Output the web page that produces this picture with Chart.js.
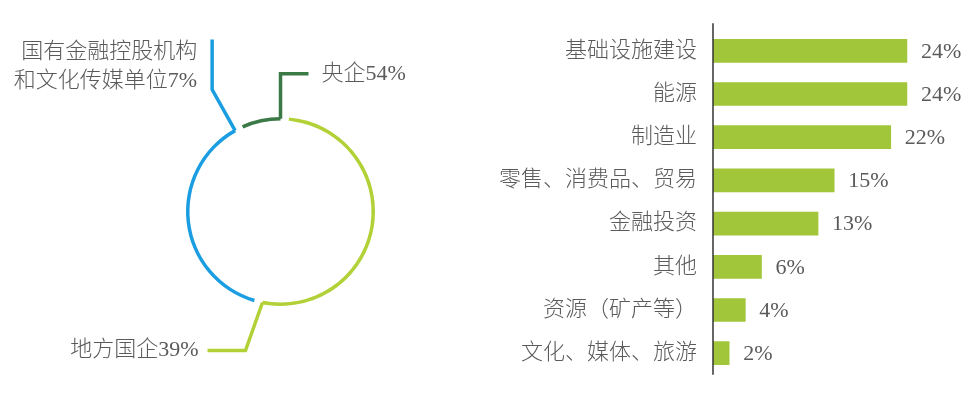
<!DOCTYPE html>
<html><head><meta charset="utf-8">
<script src="https://cdn.jsdelivr.net/npm/chart.js@4"></script>
<style>
html,body{margin:0;padding:0;background:#fff;overflow:hidden;width:966px;height:400px}
#c1{position:absolute;left:0;top:0}
#c2{position:absolute;left:480px;top:0}
</style></head><body>
<canvas id="c1" width="480" height="400"></canvas>
<canvas id="c2" width="486" height="404"></canvas>
<script>
// ---- ring chart data ----
const ringLabels = ['央企', '地方国企', ['国有金融控股机构', '和文化传媒单位']];
const ringValues = [54, 39, 7];
const ringArcColors = ['#b2d136', '#1b9de1', '#3b7946'];
const ringLeaderColors = ['#3b7946', '#b2d136', '#1b9de1'];
const ringGap = 1.5;

// ---- bar chart data ----
const sectors = ['基础设施建设', '能源', '制造业', '零售、消费品、贸易', '金融投资', '其他', '资源（矿产等）', '文化、媒体、旅游'];
const sectorValues = [24, 24, 22, 15, 13, 6, 4, 2];

const FONT = "'Liberation Serif', 'Noto Sans CJK SC', serif";
const TEXT = '#5a5a5a';

// build ring dataset with transparent gaps
const ringData = [], ringBg = [];
ringValues.forEach((v, i) => { ringData.push(v, ringGap); ringBg.push(ringArcColors[i], 'rgba(0,0,0,0)'); });
const totalRing = ringData.reduce((a, b) => a + b, 0);
const gapDeg = ringGap / totalRing * 360;
const OUTER_R = 94.5, INNER_R = 91;

// leader geometry relative to attach point
const leaderShapes = [
  { pts: [[0, 0], [0, -45], [28, -45]], align: 'left', dx: 13, dy: [0] },
  { pts: [[0, 0], [-17, 48], [-55, 48]], align: 'right', dx: -9, dy: [0] },
  { pts: [[0, 0], [-23, -41], [-23, -91]], align: 'right', dx: -15, dy: [13, 42] }
];

const leaderPlugin = {
  id: 'leaders',
  afterDatasetsDraw(chart) {
    const meta = chart.getDatasetMeta(0);
    const ctx = chart.ctx;
    ringLabels.forEach((lab, i) => {
      const el = meta.data[((i + 2) % 3) * 2];
      const p = el.getProps(['x', 'y', 'endAngle', 'innerRadius', 'outerRadius'], true);
      const r = (p.innerRadius + p.outerRadius) / 2;
      const ax = p.x + Math.cos(p.endAngle) * r, ay = p.y + Math.sin(p.endAngle) * r;
      const sh = leaderShapes[i];
      ctx.save();
      ctx.strokeStyle = ringLeaderColors[i];
      ctx.lineWidth = 3.5;
      ctx.lineJoin = 'miter';
      ctx.beginPath();
      sh.pts.forEach(([dx, dy], k) => k ? ctx.lineTo(ax + dx, ay + dy) : ctx.moveTo(ax + dx, ay + dy));
      ctx.stroke();
      const end = sh.pts[sh.pts.length - 1];
      const lines = Array.isArray(lab) ? lab.slice() : [lab];
      lines[lines.length - 1] += ringValues[i] + '%';
      ctx.fillStyle = TEXT;
      ctx.font = '300 22px ' + FONT;
      ctx.textAlign = sh.align;
      ctx.textBaseline = 'middle';
      lines.forEach((t, k) => ctx.fillText(t, ax + end[0] + sh.dx, ay + end[1] + sh.dy[k]));
      ctx.restore();
    });
  }
};

new Chart(document.getElementById('c1'), {
  type: 'doughnut',
  data: { labels: ringData.map((_, i) => String(i)), datasets: [{ data: ringData, backgroundColor: ringBg, borderWidth: 0 }] },
  options: {
    responsive: false, animation: false,
    rotation: gapDeg,
    radius: OUTER_R, cutout: (INNER_R / OUTER_R * 100) + '%',
    layout: { padding: { left: 81, top: 23 } },
    plugins: { legend: { display: false }, tooltip: { enabled: false } }
  },
  plugins: [leaderPlugin]
});

const barPlugin = {
  id: 'barLabels',
  afterDatasetsDraw(chart) {
    const ctx = chart.ctx, ca = chart.chartArea;
    ctx.save();
    ctx.strokeStyle = '#333';
    ctx.lineWidth = 1.5;
    ctx.beginPath();
    ctx.moveTo(ca.left, ca.top - 6);
    ctx.lineTo(ca.left, ca.bottom);
    ctx.stroke();
    ctx.fillStyle = TEXT;
    ctx.font = '22px ' + FONT;
    ctx.textAlign = 'left';
    ctx.textBaseline = 'middle';
    chart.getDatasetMeta(0).data.forEach((el, i) => {
      ctx.fillText(sectorValues[i] + '%', el.x + 14, el.y + 1);
    });
    ctx.restore();
  }
};

new Chart(document.getElementById('c2'), {
  type: 'bar',
  data: { labels: sectors, datasets: [{ data: sectorValues, backgroundColor: '#a2c63a', barThickness: 23 }] },
  options: {
    responsive: false, animation: false,
    indexAxis: 'y',
    layout: { padding: { top: 14, right: 10.6, bottom: 0, left: 0 } },
    scales: {
      x: { display: false, min: 0, max: 30 },
      y: {
        grid: { display: false, drawTicks: false },
        border: { display: false },
        ticks: { color: TEXT, font: { family: FONT, size: 22, weight: 300 }, padding: 16 },
        afterFit(s) { s.width = 233; }
      }
    },
    plugins: { legend: { display: false }, tooltip: { enabled: false } }
  },
  plugins: [barPlugin]
});
</script>
</body></html>
